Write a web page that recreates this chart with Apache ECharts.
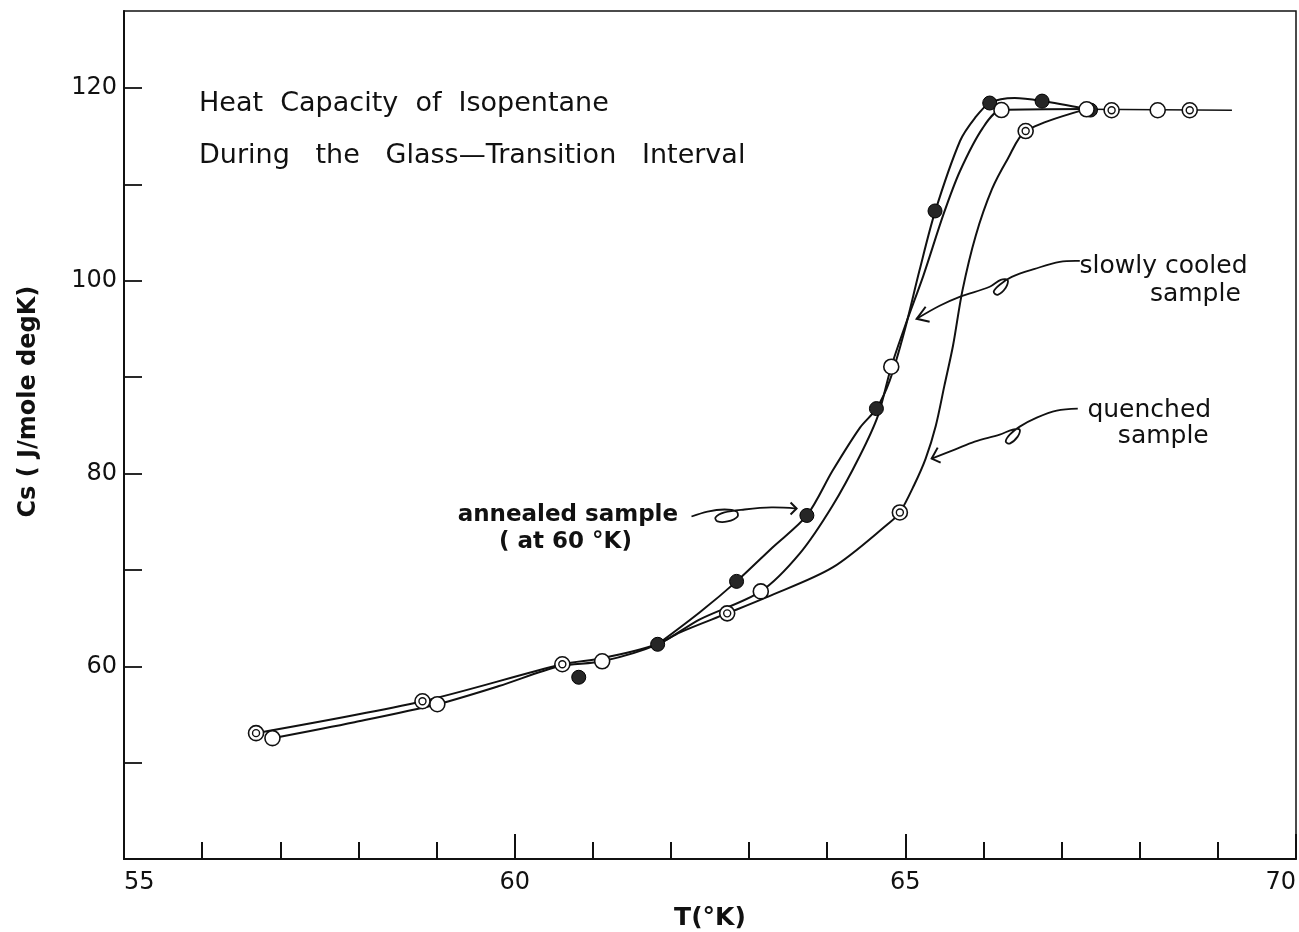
<!DOCTYPE html>
<html>
<head>
<meta charset="utf-8">
<script src="https://cdn.jsdelivr.net/npm/echarts@6/dist/echarts.min.js"></script>
<style>
html,body{margin:0;padding:0;background:#fff;}
#chart{width:1299px;height:932px;}
</style>
</head>
<body>
<div id="chart"></div>
<script>
// ---------- data ----------
const xTicks = [55, 60, 65, 70];
const yTicks = [60, 80, 100, 120];

// measured points
const quenchedT  = [56.69, 58.82, 60.61, 62.72, 64.93, 66.54, 67.64, 68.64];
const quenchedCs = [53.06, 56.37, 60.21, 65.49, 75.96, 115.54, 117.7, 117.7];

const slowlyT  = [56.90, 59.01, 61.12, 63.15, 64.82, 66.23, 67.32, 68.23];
const slowlyCs = [52.54, 56.06, 60.52, 67.77, 91.09, 117.72, 117.8, 117.7];

const annealedT  = [60.82, 61.83, 62.84, 63.74, 64.63, 65.38, 66.08, 66.75, 67.37];
const annealedCs = [58.86, 62.28, 68.81, 75.65, 86.74, 107.25, 118.45, 118.65, 117.72];

// hand-drawn curves
const quenchedCurveT  = [56.69, 58.82, 60.61, 61.12, 61.83, 62.11, 62.72, 63.22, 64.07, 64.80, 64.93, 65.11, 65.26, 65.39, 65.50, 65.61, 65.73, 65.90, 66.11, 66.31, 66.54, 67.32];
const quenchedCurveCs = [53.06, 56.37, 60.21, 60.83, 62.28, 63.50, 65.49, 67.15, 70.26, 74.92, 75.96, 78.76, 81.55, 84.97, 89.12, 93.26, 98.96, 104.66, 109.53, 112.64, 115.54, 117.82];

const slowlyCurveT  = [56.90, 57.95, 59.01, 59.80, 60.57, 61.12, 61.83, 62.37, 63.15, 63.65, 64.07, 64.42, 64.65, 64.82, 65.02, 65.23, 65.49, 65.70, 65.99, 66.23, 67.32];
const slowlyCurveCs = [52.54, 54.20, 56.06, 57.95, 60.00, 60.52, 62.28, 64.87, 67.77, 71.71, 76.68, 81.87, 86.01, 91.09, 95.85, 100.52, 106.94, 111.40, 115.85, 117.72, 117.82];

const annealedCurveT  = [61.83, 62.37, 62.84, 63.30, 63.74, 64.07, 64.42, 64.63, 64.80, 64.99, 65.18, 65.38, 65.70, 65.89, 66.08, 66.40, 66.75, 67.32];
const annealedCurveCs = [62.28, 65.60, 68.81, 72.33, 75.65, 80.31, 84.77, 86.74, 89.64, 94.82, 101.04, 107.15, 114.51, 116.89, 118.45, 118.96, 118.65, 117.82];

const tailT  = [67.32, 69.18];
const tailCs = [117.8, 117.7];

// annotations (data coordinates)
const titleLines = ['Heat  Capacity  of  Isopentane', 'During   the   Glass\u2014Transition   Interval'];
const titlePos = [[55.96, 118.34], [55.96, 112.95]];

const labelTexts = ['slowly cooled', 'sample', 'quenched', 'sample', 'annealed sample', '( at 60 \u00B0K)'];
const labelPos = [[67.23, 101.45], [68.13, 98.55], [67.33, 86.53], [67.72, 83.83], [59.27, 75.65], [59.80, 72.85]];

const arrowAnnealedT  = [62.263, 62.468, 62.685, 62.839, 62.852, 62.724, 62.596, 62.570, 62.685, 62.942, 63.287, 63.608];
const arrowAnnealedCs = [75.54, 76.06, 76.27, 76.06, 75.54, 75.03, 75.03, 75.44, 75.96, 76.27, 76.48, 76.37];
const headAnnealed = [[63.531, 77.00], [63.608, 76.37], [63.531, 75.75]];

const arrowSlowT  = [67.233, 66.977, 66.656, 66.362, 66.208, 66.131, 66.182, 66.285, 66.310, 66.221, 66.080, 65.695, 65.439, 65.145];
const arrowSlowCs = [102.07, 101.97, 101.24, 100.41, 99.59, 98.86, 98.55, 99.27, 100.10, 100.10, 99.38, 98.34, 97.41, 96.06];
const headSlow = [[65.260, 97.31], [65.145, 96.06], [65.311, 95.75]];

const arrowQuenchT  = [67.207, 66.938, 66.682, 66.464, 66.336, 66.285, 66.336, 66.438, 66.464, 66.374, 66.208, 65.888, 65.632, 65.337];
const arrowQuenchCs = [86.74, 86.53, 85.80, 84.87, 84.04, 83.32, 83.11, 83.83, 84.56, 84.56, 84.04, 83.32, 82.49, 81.55];
const headQuench = [[65.414, 82.69], [65.337, 81.55], [65.452, 81.14]];

const yAxisTitle = 'Cs ( J/mole degK)';
const yAxisTitlePos = [53.78, 87.46];
const xAxisTitle = 'T(\u00B0K)';

// ---------- helpers ----------
const zip = (a, b) => a.map((v, i) => [v, b[i]]);
const FONT = 'DejaVu Sans';

const chart = echarts.init(document.getElementById('chart'), null, {renderer: 'canvas'});

const option = {
  backgroundColor: '#ffffff',
  animation: false,
  grid: {
    left: 124, right: 3, top: 11, bottom: 73,
    show: true, borderColor: '#111', borderWidth: 1.5,
    containLabel: false, outerBoundsMode: 'none'
  },
  xAxis: [{
    type: 'value', min: 55, max: 70, interval: 1,
    name: xAxisTitle, nameLocation: 'middle', nameGap: 47,
    nameTextStyle: {fontFamily: FONT, fontSize: 25, color: '#111', fontWeight: 'bold'},
    axisLine: {show: true, onZero: false, lineStyle: {color: '#111', width: 2}},
    axisTick: {show: true, inside: true, length: 17, lineStyle: {color: '#111', width: 2}},
    axisLabel: {
      show: true, margin: 12, fontFamily: FONT, fontSize: 24, color: '#111',
      formatter: v => (xTicks.indexOf(v) >= 0 ? String(v) : ''),
      alignMinLabel: 'left', alignMaxLabel: 'right', hideOverlap: false
    },
    splitLine: {show: false}
  }, {
    type: 'value', min: 55, max: 70, interval: 5, position: 'bottom',
    axisLine: {show: false},
    axisTick: {show: true, inside: true, length: 25, lineStyle: {color: '#111', width: 2}},
    axisLabel: {show: false},
    splitLine: {show: false}
  }],
  yAxis: [{
    type: 'value', min: 40, max: 128, interval: 10,
    axisLine: {show: true, onZero: false, lineStyle: {color: '#111', width: 2}},
    axisTick: {show: true, inside: true, length: 18, lineStyle: {color: '#111', width: 1.8}},
    axisLabel: {
      show: true, margin: 7, fontFamily: FONT, fontSize: 24, color: '#111',
      formatter: v => (yTicks.indexOf(v) >= 0 ? String(v) : ''),
      showMaxLabel: false, hideOverlap: false
    },
    splitLine: {show: false}
  }],
  series: [
    {type: 'line', data: zip(quenchedCurveT, quenchedCurveCs), smooth: 0.3, showSymbol: false, symbol: 'none',
     lineStyle: {color: '#111', width: 2}, z: 2, silent: true},
    {type: 'line', data: zip(slowlyCurveT, slowlyCurveCs), smooth: 0.3, showSymbol: false, symbol: 'none',
     lineStyle: {color: '#111', width: 2}, z: 2, silent: true},
    {type: 'line', data: zip(annealedCurveT, annealedCurveCs), smooth: 0.3, showSymbol: false, symbol: 'none',
     lineStyle: {color: '#111', width: 2}, z: 2, silent: true},
    {type: 'line', data: zip(tailT, tailCs), showSymbol: false, symbol: 'none',
     lineStyle: {color: '#111', width: 1.4}, z: 2, silent: true},
    {type: 'scatter', data: zip(annealedT, annealedCs), symbol: 'circle', symbolSize: 14,
     itemStyle: {color: '#262626', borderColor: '#000', borderWidth: 1, opacity: 1}, z: 3, silent: true},
    {type: 'scatter', data: zip(slowlyT, slowlyCs), symbol: 'circle', symbolSize: 15,
     itemStyle: {color: '#fff', borderColor: '#111', borderWidth: 1.6, opacity: 1}, z: 4, silent: true},
    {type: 'scatter', data: zip(quenchedT, quenchedCs), symbol: 'circle', symbolSize: 15,
     itemStyle: {color: '#fff', borderColor: '#111', borderWidth: 1.6, opacity: 1}, z: 4, silent: true},
    {type: 'scatter', data: zip(quenchedT, quenchedCs), symbol: 'circle', symbolSize: 7,
     itemStyle: {color: '#fff', borderColor: '#111', borderWidth: 1.4, opacity: 1}, z: 5, silent: true}
  ]
};
chart.setOption(option);

// ---------- annotations placed through the axes ----------
const P = (x, y) => chart.convertToPixel({gridIndex: 0}, [x, y]);
const graphics = [];
titleLines.forEach((t, i) => {
  const p = P(titlePos[i][0], titlePos[i][1]);
  graphics.push({type: 'text', x: p[0], y: p[1], silent: true,
    style: {text: t, font: '27px "' + FONT + '"', fill: '#111', textAlign: 'left', textVerticalAlign: 'middle'}});
});
labelTexts.forEach((t, i) => {
  const p = P(labelPos[i][0], labelPos[i][1]);
  graphics.push({type: 'text', x: p[0], y: p[1], silent: true,
    style: {text: t, font: (i >= 4 ? 'bold 23px ' : '25px ') + '"' + FONT + '"', fill: '#111', textAlign: 'left', textVerticalAlign: 'middle'}});
});
function addArrow(ts, cs, head) {
  graphics.push({type: 'polyline', silent: true,
    shape: {points: ts.map((t, i) => P(t, cs[i])), smooth: 0.35},
    style: {stroke: '#111', lineWidth: 1.8, fill: null}});
  graphics.push({type: 'polyline', silent: true,
    shape: {points: head.map(h => P(h[0], h[1]))},
    style: {stroke: '#111', lineWidth: 2, fill: null}});
}
addArrow(arrowAnnealedT, arrowAnnealedCs, headAnnealed);
addArrow(arrowSlowT, arrowSlowCs, headSlow);
addArrow(arrowQuenchT, arrowQuenchCs, headQuench);
const yp = P(yAxisTitlePos[0], yAxisTitlePos[1]);
graphics.push({type: 'text', x: yp[0], y: yp[1], rotation: Math.PI / 2, silent: true,
  style: {text: yAxisTitle, font: 'bold 24px "' + FONT + '"', fill: '#111', textAlign: 'center', textVerticalAlign: 'middle'}});
chart.setOption({graphic: graphics});
</script>
</body>
</html>
